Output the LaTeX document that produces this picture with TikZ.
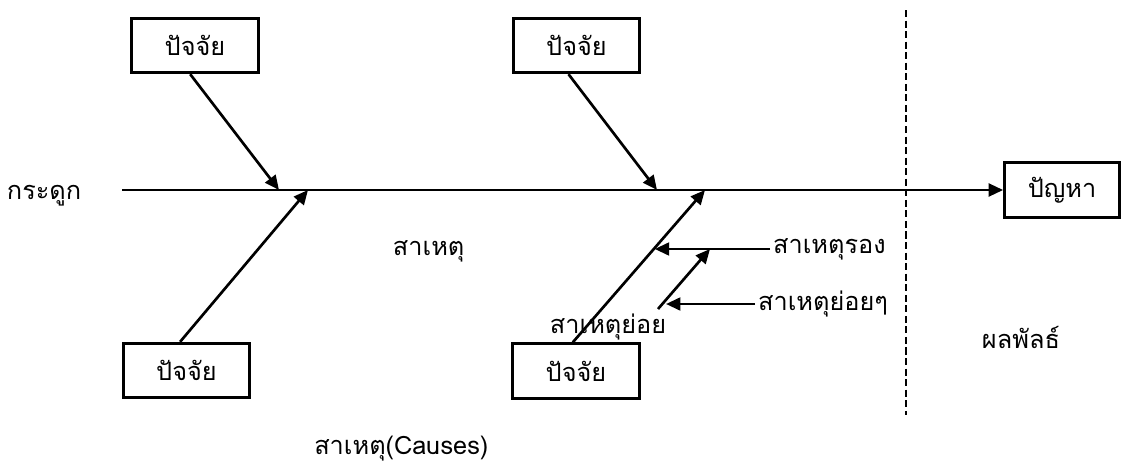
\documentclass[tikz,border=0pt]{standalone}
\usepackage{fontspec}
\newfontfamily\thaifont[Script=Thai]{Loma}
\usetikzlibrary{arrows.meta,calc}

\begin{document}
\begin{tikzpicture}[x=0.025cm,y=-0.025cm,
    every node/.style={font=\thaifont\fontsize{18}{20}\selectfont},
    factor/.style={draw,line width=2.1pt,minimum width=3.17cm,minimum height=1.36cm,inner sep=0pt},
    bone/.style={line width=1.9pt,-{Triangle[length=3.6mm,width=3.2mm]}},
    twig/.style={line width=1.9pt}]
  \useasboundingbox (0,0) rectangle (1123,467);

  \node[factor] (f1) at (195,45.5) {ปัจจัย};
  \node[factor] (f2) at (576.5,45.5) {ปัจจัย};
  \node[factor] (f3) at (186.5,370.5) {ปัจจัย};
  \node[factor] (f4) at (576,371) {ปัจจัย};
  \node[factor,minimum width=2.87cm] (prob) at (1062,190) {ปัญหา};

  % spine and where the bones meet it
  \coordinate (tail) at (122,190);
  \coordinate (b1) at (279,190);
  \coordinate (b2) at (308,190);
  \coordinate (b3) at (657,190);
  \coordinate (b4) at (705,190);
  \draw[bone] (tail) -- (prob.west);

  \draw[bone] ([xshift=-0.12cm]f1.south) -- (b1);
  \draw[bone] ([xshift=-0.2cm]f2.south) -- (b3);
  \draw[bone] ([xshift=-0.16cm]f3.north) -- (b2);
  \draw[bone] ([xshift=-0.08cm]f4.north) -- (b4);

  % secondary and minor causes
  \node[anchor=west,inner sep=2pt] (s1) at (770,249) {สาเหตุรอง};
  \node[anchor=west,inner sep=2pt] (s2) at (755,304) {สาเหตุย่อยๆ};
  \coordinate (a1) at ($([xshift=-0.08cm]f4.north)!0.62!(b4)$);
  \draw[bone] (s1.west) -- (s1.west -| a1);
  \coordinate (c0) at (658,309);
  \coordinate (c1) at (710,249);
  \draw[bone] (c0) -- (c1);
  \coordinate (c2) at (666,304);
  \draw[bone] (s2.west) -- (c2);

  \draw[line width=1.8pt,dash pattern=on 5pt off 2.5pt] (906,10) -- (906,415);

  \node[anchor=west] at (2,196) {กระดูก};
  \node[anchor=west] at (388,251) {สาเหตุ};
  \node[anchor=west] at (545,327) {สาเหตุย่อย};
  \node[anchor=west] at (977,337) {ผลพัลธ์};
  \node[anchor=west,inner sep=0pt] at (314,449) {สาเหตุ(Causes)};
\end{tikzpicture}
\end{document}
